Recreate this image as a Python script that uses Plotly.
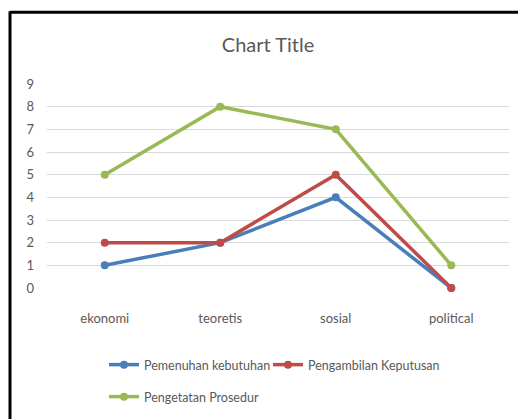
import plotly.graph_objects as go

categories = ["ekonomi", "teoretis", "sosial", "political"]
pemenuhan = [1, 2, 4, 0]
pengambilan = [2, 2, 5, 0]
pengetatan = [5, 8, 7, 1]
series_names = ["Pemenuhan kebutuhan", "Pengambilan Keputusan", "Pengetatan Prosedur"]
colors = ["#4A7EBB", "#BE4B48", "#98B954"]
y_ticks = list(range(0, 10))

FONT = "Lato, sans-serif"

fig = go.Figure()
for name, vals, col, lg in zip(series_names, [pemenuhan, pengambilan, pengetatan], colors,
                               ["legend", "legend3", "legend2"]):
    fig.add_trace(go.Scatter(
        x=categories, y=vals, name=name, mode="lines+markers",
        line=dict(color=col, width=3.5), marker=dict(color=col, size=8),
        cliponaxis=False, legend=lg, showlegend=True))

W, H = 518, 419
L, R, T, B = 47, 9, 84, 130
pw, ph = W - L - R, H - T - B

def px_x(x):
    return (x - L) / pw

def px_y(y):
    return (H - B - y) / ph

leg_font = dict(size=12.5, color="#595959")
fig.update_layout(
    width=W, height=H,
    showlegend=True,
    margin=dict(l=L, r=R, t=T, b=B),
    paper_bgcolor="white", plot_bgcolor="white",
    font=dict(family=FONT, color="#595959", size=13),
    title=dict(text="Chart Title", x=(268) / W, xanchor="center",
               y=1 - 45 / H, yanchor="middle",
               font=dict(family=FONT, size=20, color="#595959")),
    xaxis=dict(type="category", range=[-0.5, 3.5], showgrid=False, showline=False,
               zeroline=False, ticks="",
               tickfont=dict(size=13, color="#595959"), ticklabelstandoff=21),
    yaxis=dict(range=[0, 9], tickvals=y_ticks, showgrid=True, gridcolor="#D9D9D9",
               gridwidth=1, zeroline=False, showline=False, ticks="",
               tickfont=dict(size=13, color="#595959"), ticklabelstandoff=12),
    legend=dict(orientation="h", x=px_x(104), xanchor="left", y=px_y(365), yanchor="middle",
                font=leg_font, bgcolor="rgba(0,0,0,0)"),
    legend3=dict(orientation="h", x=px_x(268), xanchor="left", y=px_y(365), yanchor="middle",
                 font=leg_font, bgcolor="rgba(0,0,0,0)"),
    legend2=dict(orientation="h", x=px_x(104), xanchor="left", y=px_y(397), yanchor="middle",
                 font=leg_font, bgcolor="rgba(0,0,0,0)"),
    shapes=[
        dict(type="line", xref="paper", yref="paper", x0=px_x(10), x1=px_x(W + 5),
             y0=px_y(12), y1=px_y(12), line=dict(color="black", width=3)),
        dict(type="line", xref="paper", yref="paper", x0=px_x(10), x1=px_x(10),
             y0=px_y(11), y1=px_y(H + 5), line=dict(color="black", width=3)),
    ],
)

fig.write_html("out.html")
